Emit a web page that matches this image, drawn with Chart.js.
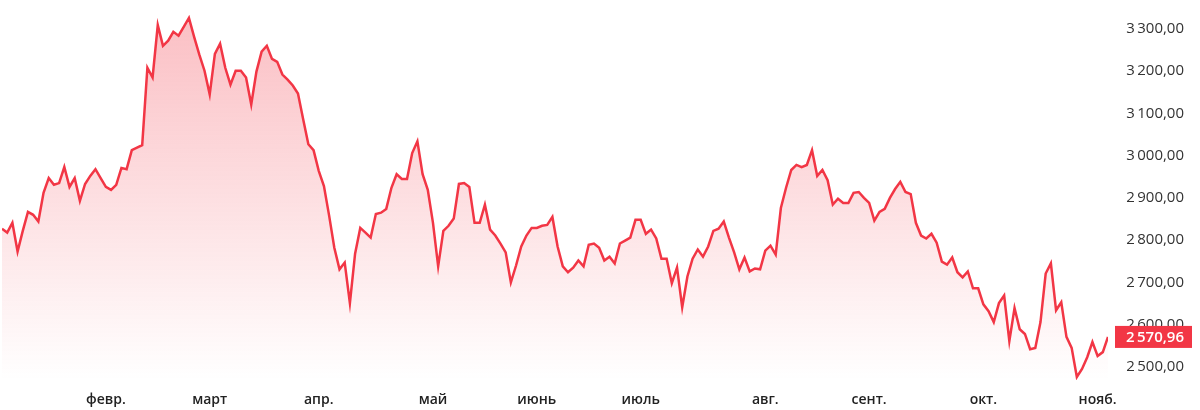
<!DOCTYPE html>
<html lang="ru">
<head>
  <meta charset="UTF-8">
  <title>Index</title>
  <script src="https://cdn.jsdelivr.net/npm/chart.js"></script>
  <style>
    html, body { margin: 0; padding: 0; background: #fff; }
    #wrap { width: 1200px; height: 410px; }
  </style>
</head>
<body>
  <div id="wrap"><canvas id="chart"></canvas></div>
  <script>
    const values = [
      2827, 2818, 2841, 2773, 2822, 2867, 2860, 2844, 2912, 2947,
      2931, 2935, 2973, 2926, 2947, 2893, 2933, 2952, 2968, 2947,
      2926, 2919, 2931, 2971, 2968, 3013, 3019, 3025, 3208, 3185,
      3309, 3260, 3272, 3293, 3284, 3305, 3326, 3281, 3239, 3201,
      3145, 3241, 3265, 3208, 3168, 3201, 3201, 3185, 3121, 3199,
      3246, 3260, 3229, 3222, 3192, 3180, 3166, 3147, 3086, 3027,
      3013, 2964, 2928, 2858, 2782, 2731, 2747, 2651, 2768, 2829,
      2818, 2806, 2862, 2865, 2874, 2924, 2956, 2945, 2945, 3006,
      3034, 2956, 2919, 2841, 2738, 2822, 2834, 2851, 2933, 2935,
      2926, 2841, 2841, 2884, 2825, 2811, 2792, 2771, 2700, 2740,
      2785, 2811, 2829, 2829, 2834, 2836, 2855, 2785, 2738, 2724,
      2735, 2752, 2738, 2789, 2792, 2782, 2752, 2761, 2745, 2792,
      2799, 2806, 2848, 2848, 2815, 2825, 2804, 2756, 2756, 2698,
      2735, 2641, 2714, 2756, 2778, 2761, 2785, 2822, 2827, 2844,
      2806, 2771, 2731, 2759, 2726, 2733, 2731, 2775, 2787, 2766,
      2876, 2924, 2966, 2978, 2973, 2978, 3013, 2952, 2966, 2942,
      2884, 2898, 2888, 2888, 2912, 2914, 2900, 2888, 2846, 2867,
      2874, 2900, 2921, 2938, 2914, 2909, 2841, 2811, 2804, 2815,
      2794, 2749, 2742, 2759, 2724, 2712, 2726, 2686, 2686, 2648,
      2632, 2606, 2651, 2669, 2561, 2639, 2589, 2578, 2542, 2545,
      2606, 2721, 2745, 2634, 2653, 2571, 2545, 2476, 2495, 2523,
      2559, 2526, 2535, 2570.96
    ];
    const monthIdx = [20, 40, 61, 83, 103, 123, 147, 167, 189, 211];
    const monthLabels = ['февр.', 'март', 'апр.', 'май', 'июнь', 'июль', 'авг.', 'сент.', 'окт.', 'нояб.'];
    const yTicks = [2500, 2600, 2700, 2800, 2900, 3000, 3100, 3200, 3300];

    const RED = '#f23645';

    function fmt(v) {
      const parts = v.toFixed(2).split('.');
      const int = parts[0].replace(/\B(?=(\d{3})+(?!\d))/g, '\u2009');
      return int + ',' + parts[1];
    }

    // last value badge over the right axis
    const lastBadge = {
      id: 'lastBadge',
      afterDraw(chart) {
        const c = chart.ctx;
        const y = chart.scales.y.getPixelForValue(values[values.length - 1]);
        const txt = fmt(values[values.length - 1]);
        c.save();
        c.fillStyle = RED;
        c.fillRect(1115, y - 11, 77, 22);
        c.font = '600 15px "Open Sans"';
        c.fillStyle = '#fff';
        c.textAlign = 'right';
        c.textBaseline = 'middle';
        c.fillText(txt, 1184, y + 1);
        c.restore();
      }
    };

    const ctx = document.getElementById('chart').getContext('2d');
    new Chart(ctx, {
      type: 'line',
      data: {
        labels: values.map((_, i) => i),
        datasets: [{
          data: values.map((v, i) => ({ x: i, y: v })),
          borderColor: RED,
          borderWidth: 2.5,
          pointRadius: 0,
          tension: 0,
          fill: 'start',
          backgroundColor(context) {
            const area = context.chart.chartArea;
            if (!area) return 'rgba(242,54,69,0.25)';
            const g = context.chart.ctx.createLinearGradient(0, area.top, 0, area.bottom);
            g.addColorStop(0, 'rgba(242,54,69,0.32)');
            g.addColorStop(1, 'rgba(242,54,69,0)');
            return g;
          }
        }]
      },
      options: {
        responsive: true,
        maintainAspectRatio: false,
        animation: false,
        layout: { padding: { left: 2, right: 16, top: 10, bottom: 0 } },
        plugins: { legend: { display: false }, tooltip: { enabled: false } },
        scales: {
          x: {
            type: 'linear',
            min: 0,
            max: values.length - 1,
            grid: { display: false, drawTicks: false },
            border: { display: false },
            afterBuildTicks(scale) {
              scale.ticks = monthIdx.map(v => ({ value: v }));
            },
            afterFit(scale) { scale.height = 30; },
            ticks: {
              autoSkip: false,
              maxRotation: 0,
              padding: 12,
              color: '#222',
              font: { family: 'Open Sans', size: 14, weight: '600' },
              callback(v) {
                const k = monthIdx.indexOf(v);
                return k >= 0 ? monthLabels[k] : '';
              }
            }
          },
          y: {
            position: 'right',
            min: 2469,
            max: 3340,
            grid: { display: false, drawTicks: false },
            border: { display: false },
            afterBuildTicks(scale) {
              scale.ticks = yTicks.map(v => ({ value: v }));
            },
            afterFit(scale) { scale.width = 76; },
            ticks: {
              crossAlign: 'far',
              color: '#333',
              font: { family: 'Open Sans', size: 15 },
              callback: v => fmt(v)
            }
          }
        }
      },
      plugins: [lastBadge]
    });
  </script>
</body>
</html>
